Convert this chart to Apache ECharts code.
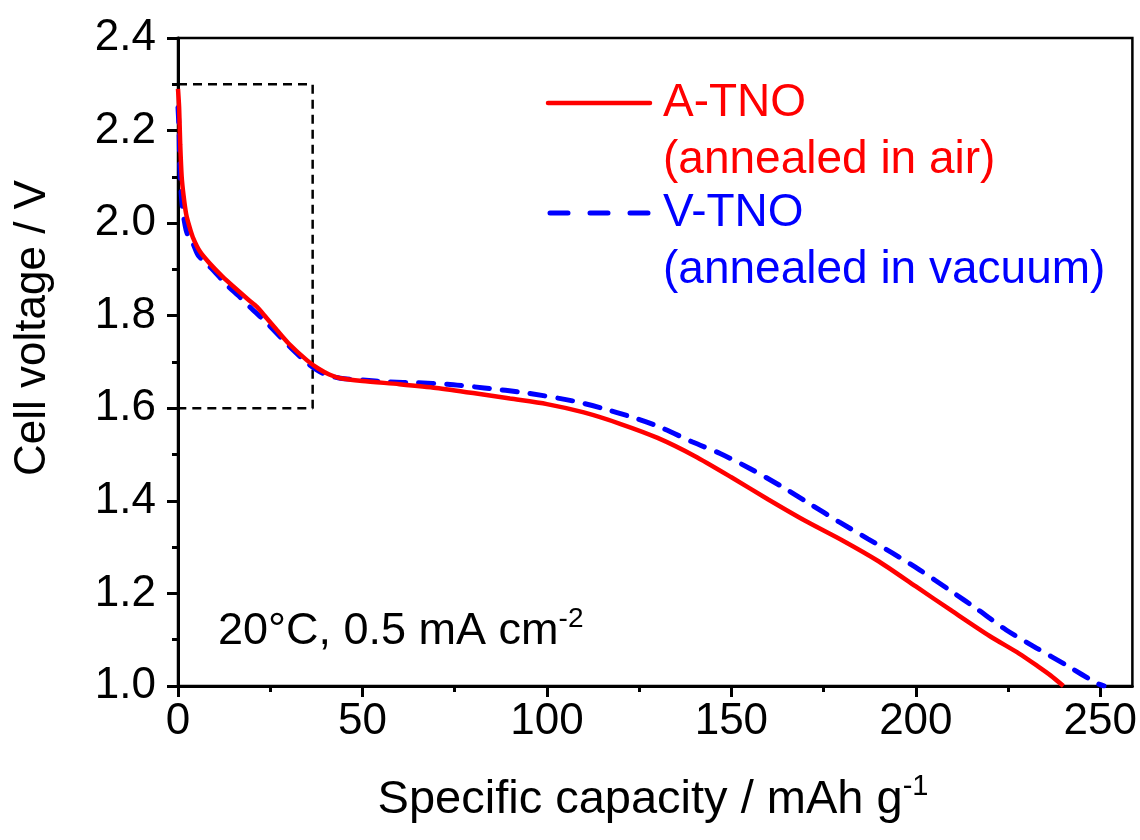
<!DOCTYPE html>
<html>
<head>
<meta charset="utf-8">
<title>Discharge curves A-TNO / V-TNO</title>
<script src="https://cdn.jsdelivr.net/npm/echarts@6/dist/echarts.min.js"></script>
<style>
  html, body { margin: 0; padding: 0; background: #ffffff; }
  #chart { width: 1140px; height: 840px; }
</style>
</head>
<body>
<div id="chart"></div>
<script>
// Discharge curves: [specific capacity (mAh/g), cell voltage (V)]
const aTNO = [
  [0, 2.29], [0.3, 2.25], [0.6, 2.17], [1.0, 2.10], [1.5, 2.06], [2.2, 2.02],
  [3.0, 1.995], [4.0, 1.970], [6.0, 1.938], [8.7, 1.912], [12, 1.885],
  [16, 1.856], [19, 1.835], [21.4, 1.819], [24, 1.795], [26.8, 1.769],
  [30, 1.740], [34.9, 1.704], [38, 1.686], [41, 1.673], [44, 1.665],
  [50, 1.659], [60, 1.652], [70, 1.644], [80, 1.633], [90, 1.621],
  [100, 1.609], [110, 1.591], [120, 1.566], [130, 1.536], [140, 1.497],
  [150, 1.451], [160, 1.403], [170, 1.357], [180, 1.315], [190, 1.269],
  [200, 1.215], [210, 1.161], [220, 1.108], [228, 1.070], [233, 1.043],
  [236.5, 1.023], [240, 1.0]
];
const vTNO = [
  [0, 2.25], [0.3, 2.20], [0.5, 2.12], [0.9, 2.06], [1.4, 2.02], [2.2, 1.985],
  [3.0, 1.968], [4.1, 1.955], [5.5, 1.930], [9.5, 1.899], [13, 1.868],
  [16.8, 1.840], [20, 1.815], [24.1, 1.784], [28, 1.752], [31.2, 1.726],
  [35, 1.698], [37.6, 1.683], [40.3, 1.672], [44, 1.665], [50, 1.661],
  [57, 1.657], [65, 1.655], [73, 1.652], [83, 1.644], [94.5, 1.633],
  [107, 1.616], [115, 1.600], [123, 1.581], [130.5, 1.560], [139.5, 1.527],
  [146.8, 1.503], [155, 1.470], [163, 1.434], [171, 1.395], [179.3, 1.354],
  [187, 1.318], [193.7, 1.287], [201, 1.251], [209, 1.208], [217, 1.164],
  [224.5, 1.121], [232.7, 1.082], [240.8, 1.045], [249, 1.006], [251, 1.0]
];
// Zoom-in frame drawn over the initial sloping region
const zoomFrame = [[0, 2.3], [36.5, 2.3], [36.5, 1.6], [0, 1.6]];

const xMajorTicks = [0, 50, 100, 150, 200, 250];
const xMinorTicks = [25, 75, 125, 175, 225];

const seriesNames = ['A-TNO', 'V-TNO'];
const seriesNotes = ['(annealed in air)', '(annealed in vacuum)'];
const xTitle = 'Specific capacity / mAh g';
const yTitle = 'Cell voltage / V';
const note = '20°C, 0.5 mA cm';

const FONT = '"Liberation Sans", Arial, sans-serif';
const RED = '#ff0000';
const BLUE = '#0000ff';

const chart = echarts.init(document.getElementById('chart'), null, { renderer: 'canvas' });

const grid = { left: 178, right: 7, top: 38, bottom: 154 };
const X_MIN = 0, X_MAX = 258.7;

const option = {
  animation: false,
  backgroundColor: '#ffffff',
  grid: Object.assign({ show: true, borderColor: '#000', borderWidth: 2.5, backgroundColor: 'transparent' }, grid),
  xAxis: [
    {
      type: 'value', min: X_MIN, max: X_MAX,
      axisLine: { show: true, onZero: false, lineStyle: { color: '#000', width: 3 } },
      axisTick: { show: true, inside: false, length: 11, lineStyle: { color: '#000', width: 3 }, customValues: xMajorTicks },
      axisLabel: { show: true, margin: 14, color: '#000', fontSize: 44, fontFamily: FONT, customValues: xMajorTicks },
      splitLine: { show: false }
    },
    {
      type: 'value', min: X_MIN, max: X_MAX, position: 'bottom',
      axisLine: { show: false },
      axisTick: { show: true, inside: false, length: 6, lineStyle: { color: '#000', width: 3 }, customValues: xMinorTicks },
      axisLabel: { show: false },
      splitLine: { show: false }
    }
  ],
  yAxis: {
    type: 'value', min: 1.0, max: 2.4, interval: 0.2,
    axisLine: { show: true, onZero: false, lineStyle: { color: '#000', width: 3 } },
    axisTick: { show: true, inside: false, length: 11, lineStyle: { color: '#000', width: 3 } },
    minorTick: { show: true, splitNumber: 2, length: 6, lineStyle: { color: '#000', width: 3 } },
    axisLabel: { margin: 22, color: '#000', fontSize: 44, fontFamily: FONT, formatter: v => v.toFixed(1) },
    splitLine: { show: false }
  },
  series: [
    {
      type: 'line', name: 'frame', data: zoomFrame, showSymbol: false, silent: true,
      lineStyle: { color: '#000', width: 2.5, type: [9, 6] }, z: 1
    },
    {
      type: 'line', name: seriesNames[1], data: vTNO, showSymbol: false, smooth: 0.25,
      lineStyle: { color: BLUE, width: 5, type: [15, 13], cap: 'round' }, z: 2
    },
    {
      type: 'line', name: seriesNames[0], data: aTNO, showSymbol: false, smooth: 0.25,
      lineStyle: { color: RED, width: 4.5 }, z: 3
    }
  ],
  graphic: [
    // legend
    { type: 'line', shape: { x1: 548, y1: 103, x2: 650, y2: 103 }, style: { stroke: RED, lineWidth: 4.5, lineCap: 'round' } },
    { type: 'text', x: 663, y: 103, style: { text: seriesNames[0], fill: RED, font: '46px ' + FONT, textVerticalAlign: 'middle' } },
    { type: 'text', x: 663, y: 160, style: { text: seriesNotes[0], fill: RED, font: '46px ' + FONT, textVerticalAlign: 'middle' } },
    { type: 'line', shape: { x1: 550, y1: 213, x2: 650, y2: 213 }, style: { stroke: BLUE, lineWidth: 5, lineDash: [18, 22], lineCap: 'round' } },
    { type: 'text', x: 663, y: 213, style: { text: seriesNames[1], fill: BLUE, font: '46px ' + FONT, textVerticalAlign: 'middle' } },
    { type: 'text', x: 663, y: 270, style: { text: seriesNotes[1], fill: BLUE, font: '46px ' + FONT, textVerticalAlign: 'middle' } },
    // condition note with superscript
    {
      type: 'text', x: 218, y: 632,
      style: {
        text: '{n|' + note + '}{s|-2}',
        textVerticalAlign: 'middle',
        rich: {
          n: { fontSize: 45, fontFamily: FONT, color: '#000' },
          s: { fontSize: 28, fontFamily: FONT, color: '#000', padding: [0, 0, 26, 0] }
        }
      }
    },
    // x axis title with superscript
    {
      type: 'text', x: 653, y: 800,
      style: {
        text: '{n|' + xTitle + '}{s|-1}',
        textAlign: 'center', textVerticalAlign: 'middle',
        rich: {
          n: { fontSize: 47, fontFamily: FONT, color: '#000' },
          s: { fontSize: 29, fontFamily: FONT, color: '#000', padding: [0, 0, 26, 0] }
        }
      }
    },
    // y axis title
    {
      type: 'text', x: 33, y: 328, rotation: Math.PI / 2,
      style: { text: yTitle, fill: '#000', font: '44px ' + FONT, textAlign: 'center', textVerticalAlign: 'middle' }
    }
  ]
};

chart.setOption(option);
</script>
</body>
</html>
